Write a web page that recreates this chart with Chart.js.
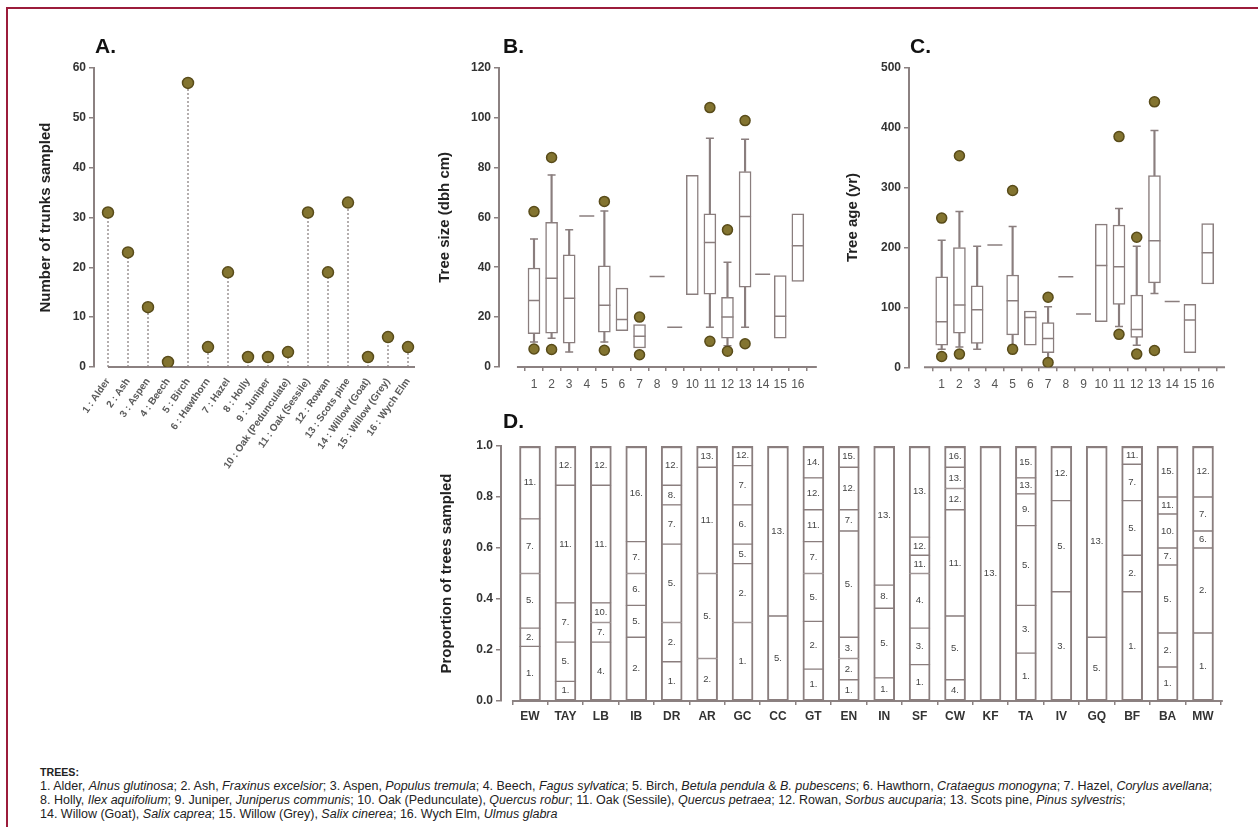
<!DOCTYPE html>
<html>
<head>
<meta charset="utf-8">
<title>Tree sampling summary</title>
<script src="https://cdn.jsdelivr.net/npm/chart.js@4/dist/chart.umd.min.js"></script>
<style>
  html, body { margin: 0; padding: 0; background: #fff; overflow: hidden; }
  #page { position: relative; width: 1258px; height: 827px; overflow: hidden; background: #fff;
          font-family: "Liberation Sans", Arial, Helvetica, sans-serif; }
  #frame { position: absolute; left: 6px; top: 7px; width: 1280px; height: 860px;
           border: 2px solid #9c1c3b; box-sizing: border-box; }
  canvas { position: absolute; }
  .letter { position: absolute; font-weight: bold; font-size: 21px; line-height: 21px; color: #111; }
  #footer { position: absolute; left: 40px; top: 765px; color: #222; font-size: 10px; line-height: 14px; }
  #footer .head { font-weight: bold; font-size: 8.5px; }
  #footer div { white-space: nowrap; }
</style>
</head>
<body>
<div id="page">
  <div id="frame"></div>
  <canvas id="chartA" width="440" height="470" style="left:0px;top:20px"></canvas>
  <canvas id="chartB" width="420" height="390" style="left:420px;top:20px"></canvas>
  <canvas id="chartC" width="420" height="390" style="left:830px;top:20px"></canvas>
  <canvas id="chartD" width="830" height="320" style="left:420px;top:420px"></canvas>
  <div class="letter" style="left:95px;top:35px">A.</div>
  <div class="letter" style="left:503px;top:35px">B.</div>
  <div class="letter" style="left:910px;top:35px">C.</div>
  <div class="letter" style="left:503px;top:410px">D.</div>
  <div id="footer">
    <div class="head">TREES:</div>
    <div><span id="footLine1">1. Alder, <i>Alnus glutinosa</i>; 2. Ash, <i>Fraxinus excelsior</i>; 3. Aspen, <i>Populus tremula</i>; 4. Beech, <i>Fagus sylvatica</i>; 5. Birch, <i>Betula pendula</i> &amp; <i>B. pubescens</i>; 6. Hawthorn, <i>Crataegus monogyna</i>; 7. Hazel, <i>Corylus avellana</i>;</span></div>
    <div>8. Holly, <i>Ilex aquifolium</i>; 9. Juniper, <i>Juniperus communis</i>; 10. Oak (Pedunculate), <i>Quercus robur</i>; 11. Oak (Sessile), <i>Quercus petraea</i>; 12. Rowan, <i>Sorbus aucuparia</i>; 13. Scots pine, <i>Pinus sylvestris</i>;</div>
    <div>14. Willow (Goat), <i>Salix caprea</i>; 15. Willow (Grey), <i>Salix cinerea</i>; 16. Wych Elm, <i>Ulmus glabra</i></div>
  </div>
</div>
<script>
// ---------- data ----------
const speciesIds = [1, 2, 3, 4, 5, 6, 7, 8, 9, 10, 11, 12, 13, 14, 15, 16];
const treeLabels = ['1 : Alder', '2 : Ash', '3 : Aspen', '4 : Beech', '5 : Birch', '6 : Hawthorn',
  '7 : Hazel', '8 : Holly', '9 : Juniper', '10 : Oak (Pedunculate)', '11 : Oak (Sessile)',
  '12 : Rowan', '13 : Scots pine', '14 : Willow (Goat)', '15 : Willow (Grey)', '16 : Wych Elm'];
const trunkCounts = [31, 23, 12, 1, 57, 4, 19, 2, 2, 3, 31, 19, 33, 2, 6, 4];

// tree size, dbh (cm)
const sizeQ1     = [13.4, 13.6, 9.6, null, 14, 14.6, 7.6, null, null, 29, 29.2, 11.6, 32, null, 11.6, 34.3];
const sizeMedian = [26.7, 35.6, 27.6, 60.5, 24.8, 19, 12.3, 36.3, 15.9, null, 49.9, 20, 60.3, 37.2, 20.3, 48.6];
const sizeQ3     = [39.7, 58, 45, null, 40.6, 31.6, 17, null, null, 76.8, 61.4, 27.9, 78.4, null, 36.7, 61.4];
const sizeLow    = [10, 11.5, 6, null, 10, null, null, null, null, null, 15.9, 8.5, 15.9, null, null, null];
const sizeHigh   = [51.3, 77, 55, null, 62.5, null, null, null, null, null, 91.7, 42, 91.3, null, null, null];
const sizeOutliers = [[62.3, 7.2], [84, 7], [], [], [66.4, 6.7], [], [20, 4.9], [], [], [],
  [104, 10.3], [55, 6.3], [98.8, 9.3], [], [], []];

// tree age (yr)
const ageQ1     = [37, 57, 40, null, 54, 37, 24.5, null, null, 76, 105, 50, 141, null, 24.5, 139];
const ageMedian = [76, 104, 96, 204, 111, 83, 48, 151, 89, 170, 168, 63, 211, 110, 79, 191];
const ageQ3     = [151, 200, 136, null, 154, 94, 74.5, null, null, 239, 237.5, 120.7, 320, null, 105, 240];
const ageLow    = [30, 34, 30, null, 37, null, 12, null, null, null, 68, 37, 123, null, null, null];
const ageHigh   = [212, 260, 202, null, 235, null, 101, null, null, null, 265, 202, 395, null, null, null];
const ageOutliers = [[249, 18], [353, 22], [], [], [295, 30], [], [117, 8], [], [], [],
  [385, 55], [217, 22], [443, 28], [], [], []];

// site composition (species id and number of trees, bottom to top)
const siteCodes = ['EW', 'TAY', 'LB', 'IB', 'DR', 'AR', 'GC', 'CC', 'GT', 'EN',
  'IN', 'SF', 'CW', 'KF', 'TA', 'IV', 'GQ', 'BF', 'BA', 'MW'];
const siteSpecies = [
  [1, 2, 5, 7, 11], [1, 5, 7, 11, 12], [4, 7, 10, 11, 12], [2, 5, 6, 7, 16], [1, 2, 5, 7, 8, 12],
  [2, 5, 11, 13], [1, 2, 5, 6, 7, 12], [5, 13], [1, 2, 5, 7, 11, 12, 14], [1, 2, 3, 5, 7, 12, 15],
  [1, 5, 8, 13], [1, 3, 4, 11, 12, 13], [4, 5, 11, 12, 13, 16], [13], [1, 3, 5, 9, 13, 15],
  [3, 5, 12], [5, 13], [1, 2, 5, 7, 11], [1, 2, 5, 7, 10, 11, 15], [1, 2, 6, 7, 12]];
const siteCounts = [
  [3, 1, 3, 3, 4], [1, 2, 2, 6, 2], [3, 1, 1, 6, 2], [2, 1, 1, 1, 3], [2, 2, 4, 2, 1, 2],
  [2, 4, 5, 1], [4, 3, 1, 2, 2, 1], [1, 2], [2, 3, 3, 2, 2, 2, 2], [1, 1, 1, 5, 1, 2, 1],
  [1, 3, 1, 6], [2, 2, 3, 1, 1, 5], [1, 3, 5, 1, 1, 1], [1], [3, 3, 5, 2, 1, 2],
  [6, 5, 3], [1, 3], [6, 2, 3, 2, 1], [2, 2, 4, 1, 2, 1, 3], [4, 5, 1, 2, 3]];

// ---------- styling ----------
const FONT = '"Liberation Sans", Arial, Helvetica, sans-serif';
const AXIS = '#8b8181';
const BOX = '#8a7e7e';
const DOT_FILL = '#837430';
const DOT_EDGE = '#594c1a';
Chart.defaults.font.family = FONT;
Chart.defaults.animation = false;

// x axis line drawn between two axis values, leaving a gap at the y axis
const baselinePlugin = {
  id: 'baseline',
  beforeDatasetsDraw(chart, args, opts) {
    const x = chart.scales.x, ctx = chart.ctx;
    const yPix = chart.chartArea.bottom;
    ctx.save();
    ctx.strokeStyle = AXIS;
    ctx.lineWidth = 2;
    ctx.beginPath();
    ctx.moveTo(x.getPixelForValue(opts.from), yPix);
    ctx.lineTo(x.getPixelForValue(opts.to), yPix);
    ctx.stroke();
    ctx.restore();
  }
};

// dotted stems under the lollipop markers
const stemPlugin = {
  id: 'stems',
  beforeDatasetsDraw(chart) {
    const y = chart.scales.y, ctx = chart.ctx;
    const meta = chart.getDatasetMeta(0);
    ctx.save();
    ctx.strokeStyle = '#9c9494';
    ctx.lineWidth = 1.5;
    ctx.setLineDash([2, 2]);
    meta.data.forEach(pt => {
      ctx.beginPath();
      ctx.moveTo(pt.x, y.getPixelForValue(0));
      ctx.lineTo(pt.x, pt.y);
      ctx.stroke();
    });
    ctx.restore();
  }
};

// species number written inside each stacked segment
const segmentLabelPlugin = {
  id: 'segmentLabels',
  afterDatasetsDraw(chart) {
    const ctx = chart.ctx;
    ctx.save();
    ctx.font = '9.5px ' + FONT;
    ctx.fillStyle = '#444';
    ctx.textAlign = 'center';
    ctx.textBaseline = 'middle';
    chart.data.datasets.forEach((ds, k) => {
      chart.getDatasetMeta(k).data.forEach((bar, j) => {
        const sp = ds.data[j].sp;
        ctx.fillText(sp + '.', bar.x, (bar.y + bar.base) / 2);
      });
    });
    ctx.restore();
  }
};

function yAxis(opts) {
  return {
    type: 'linear',
    position: 'left',
    min: opts.min, max: opts.max,
    border: { display: true, color: AXIS, width: 2 },
    grid: { display: true, drawOnChartArea: false, drawTicks: true, tickLength: 5, color: AXIS, lineWidth: 1.5 },
    ticks: { stepSize: opts.step, padding: 3, color: '#333', font: { size: 12, weight: 'bold' },
             callback: opts.fmt || (v => v) },
    title: { display: true, text: opts.title, color: '#222', font: { size: 15, weight: 'bold' },
             padding: { top: opts.titlePad, bottom: 0 } },
    afterFit: s => { s.width = opts.width; }
  };
}

function fixedTicks(values) {
  return s => { s.ticks = values.map(v => ({ value: v })); };
}

// ---------- A: trunks sampled ----------
new Chart(document.getElementById('chartA'), {
  type: 'scatter',
  data: {
    datasets: [{
      data: speciesIds.map((id, i) => ({ x: id, y: trunkCounts[i] })),
      pointRadius: 5.5,
      pointBackgroundColor: DOT_FILL,
      pointBorderColor: DOT_EDGE,
      pointBorderWidth: 1.5
    }]
  },
  options: {
    responsive: false,
    layout: { padding: { left: 0, top: 48, right: 20, bottom: 0 } },
    plugins: { legend: { display: false }, tooltip: { enabled: false },
               baseline: { from: 1, to: 16.35 } },
    scales: {
      x: {
        type: 'linear', min: 0.3, max: 16.6,
        border: { display: false },
        grid: { display: false, drawTicks: false },
        afterBuildTicks: fixedTicks(speciesIds),
        ticks: { autoSkip: false, minRotation: 55, maxRotation: 55, padding: 9, color: '#5a5a5a',
                 font: { size: 10, weight: 'bold' }, callback: v => treeLabels[v - 1] },
        afterFit: s => { s.height = 123; }
      },
      y: yAxis({ min: 0, max: 60, step: 10, title: 'Number of trunks sampled', titlePad: 36.5, width: 94 })
    }
  },
  plugins: [stemPlugin, baselinePlugin]
});

// ---------- B / C: box plots ----------
function boxDatasets(q1, med, q3, lo, hi, outliers) {
  const has = arr => speciesIds.filter((id, i) => arr[i] != null);
  const caps = [];
  speciesIds.forEach((id, i) => {
    if (lo[i] != null) caps.push({ x: id, y: lo[i] });
    if (hi[i] != null) caps.push({ x: id, y: hi[i] });
  });
  const outs = [];
  speciesIds.forEach((id, i) => outliers[i].forEach(v => outs.push({ x: id, y: v })));
  const medPts = has(med).map(id => ({ x: id, y: med[id - 1] }));
  return [
    { type: 'scatter', data: outs, pointRadius: 5, pointBackgroundColor: DOT_FILL,
      pointBorderColor: DOT_EDGE, pointBorderWidth: 1.5 },
    { type: 'scatter', data: medPts, pointStyle: 'line',
      pointRadius: medPts.map(p => (q1[p.x - 1] == null ? 7.5 : 6)),
      pointBorderColor: BOX, pointBorderWidth: 1.5 },
    { type: 'scatter', data: caps, pointStyle: 'line', pointRadius: 4,
      pointBorderColor: BOX, pointBorderWidth: 1.5 },
    { type: 'bar', data: has(q1).map(id => ({ x: id, y: [q1[id - 1], q3[id - 1]] })),
      backgroundColor: '#fff', borderColor: BOX, borderWidth: 1.5, borderSkipped: false,
      barThickness: 12, grouped: false },
    { type: 'bar', data: has(hi).map(id => ({ x: id, y: [q3[id - 1], hi[id - 1]] })),
      backgroundColor: BOX, borderWidth: 0, barThickness: 1.5, grouped: false },
    { type: 'bar', data: has(lo).map(id => ({ x: id, y: [lo[id - 1], q1[id - 1]] })),
      backgroundColor: BOX, borderWidth: 0, barThickness: 1.5, grouped: false }
  ];
}

function boxChart(id, datasets, xr, yopts, xHeight, padTop, line) {
  return new Chart(document.getElementById(id), {
    type: 'bar',
    data: { datasets },
    options: {
      responsive: false,
      layout: { padding: { left: 0, top: padTop, right: 20, bottom: 0 } },
      plugins: { legend: { display: false }, tooltip: { enabled: false }, baseline: line },
      scales: {
        x: {
          type: 'linear', min: xr[0], max: xr[1], offset: false,
          border: { display: false },
          grid: { display: true, drawOnChartArea: false, drawTicks: true, tickLength: 4, color: AXIS, lineWidth: 1.5 },
          afterBuildTicks: fixedTicks(speciesIds),
          ticks: { autoSkip: false, maxRotation: 0, minRotation: 0, padding: 6, color: '#555',
                   font: { size: 12 }, callback: v => String(v) },
          afterFit: s => { s.height = xHeight; }
        },
        y: yAxis(yopts)
      }
    },
    plugins: [baselinePlugin]
  });
}

boxChart('chartB', boxDatasets(sizeQ1, sizeMedian, sizeQ3, sizeLow, sizeHigh, sizeOutliers),
  [-0.99, 17.26], { min: 0, max: 120, step: 20, title: 'Tree size (dbh cm)', titlePad: 16, width: 79 },
  43, 47.7, { from: 0.03, to: 17.08 });

boxChart('chartC', boxDatasets(ageQ1, ageMedian, ageQ3, ageLow, ageHigh, ageOutliers),
  [-0.844, 17.26], { min: 0, max: 500, step: 100, title: 'Tree age (yr)', titlePad: 14, width: 79 },
  42.7, 47.7, { from: 0.0, to: 16.98 });

// ---------- D: species composition per site ----------
const siteIdx = siteCodes.map((c, i) => i + 1);
const maxSegments = Math.max(...siteSpecies.map(s => s.length));
const segDatasets = [];
for (let k = 0; k < maxSegments; k++) {
  const pts = [];
  siteCodes.forEach((code, i) => {
    if (k < siteCounts[i].length) {
      const total = siteCounts[i].reduce((a, b) => a + b, 0);
      pts.push({ x: i + 1, y: siteCounts[i][k] / total, sp: siteSpecies[i][k] });
    }
  });
  segDatasets.push({
    data: pts,
    backgroundColor: '#fff',
    borderColor: BOX,
    borderSkipped: false,
    barThickness: 21,
    borderWidth: ctx => {
      const i = ctx.raw.x - 1;
      const last = siteCounts[i].length - 1;
      return { left: 2, right: 2, top: ctx.datasetIndex === last ? 2.5 : 1, bottom: ctx.datasetIndex === 0 ? 1.5 : 1 };
    }
  });
}

new Chart(document.getElementById('chartD'), {
  type: 'bar',
  data: { datasets: segDatasets },
  options: {
    responsive: false,
    layout: { padding: { left: 0, top: 26, right: 22, bottom: 0 } },
    plugins: { legend: { display: false }, tooltip: { enabled: false }, baseline: { from: 0.49, to: 20.56 } },
    scales: {
      x: {
        type: 'linear', min: 0.181, max: 20.706, offset: false, stacked: true,
        border: { display: false },
        grid: { display: true, drawOnChartArea: false, drawTicks: true, tickLength: 4, color: AXIS, lineWidth: 1.5 },
        afterBuildTicks: fixedTicks(siteIdx),
        ticks: { autoSkip: false, maxRotation: 0, minRotation: 0, padding: 4, color: '#333',
                 font: { size: 12, weight: 'bold' }, callback: v => siteCodes[v - 1] },
        afterFit: s => { s.height = 39; }
      },
      y: Object.assign(yAxis({ min: 0, max: 1, step: 0.2, title: 'Proportion of trees sampled', titlePad: 18,
                               width: 81, fmt: v => v.toFixed(1) }), { stacked: true })
    }
  },
  plugins: [baselinePlugin, segmentLabelPlugin]
});

// footer: fit the first legend line to the frame width
(function fitFooter() {
  const foot = document.getElementById('footer');
  const line = document.getElementById('footLine1');
  const w = line.getBoundingClientRect().width;
  const size = 10 * 1173 / w;
  foot.style.fontSize = size.toFixed(2) + 'px';
  foot.querySelector('.head').style.fontSize = (size * 0.85).toFixed(2) + 'px';
})();
</script>
</body>
</html>
